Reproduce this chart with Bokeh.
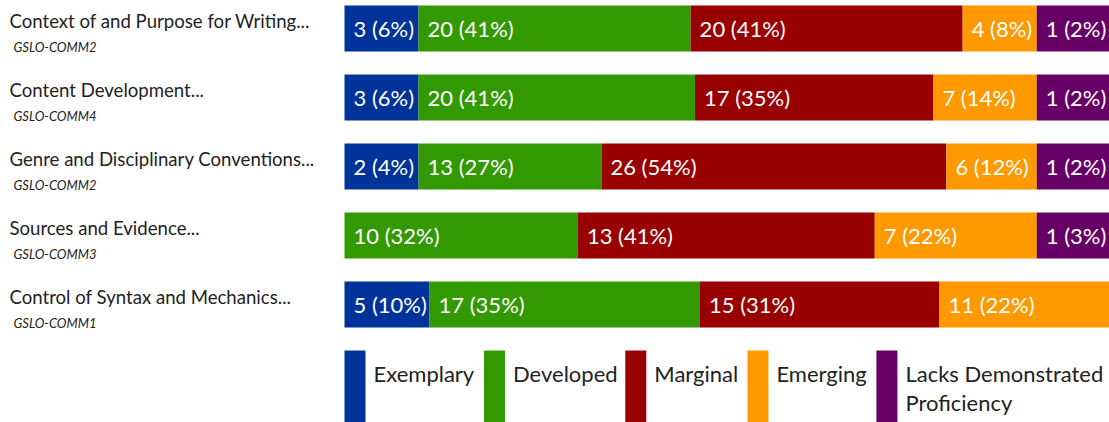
import math
from bokeh.plotting import figure
from bokeh.models import Range1d, ColumnDataSource
from bokeh.core.properties import value
from bokeh.embed import file_html
from bokeh.resources import INLINE

# ---------------- data ----------------
criteria = [
    "Context of and Purpose for Writing...",
    "Content Development...",
    "Genre and Disciplinary Conventions...",
    "Sources and Evidence...",
    "Control of Syntax and Mechanics...",
]
outcomes = ["GSLO-COMM2", "GSLO-COMM4", "GSLO-COMM2", "GSLO-COMM3", "GSLO-COMM1"]
levels = ["Exemplary", "Developed", "Marginal", "Emerging", "Lacks Demonstrated Proficiency"]
legend_labels = ["Exemplary", "Developed", "Marginal", "Emerging", "Lacks Demonstrated\nProficiency"]
colors = ["#003399", "#339900", "#990000", "#FF9900", "#660066"]
exemplary = [3, 3, 2, 0, 5]
developed = [20, 20, 13, 10, 17]
marginal = [20, 17, 26, 13, 15]
emerging = [4, 7, 6, 7, 11]
lacks = [1, 1, 1, 1, 0]
series = [exemplary, developed, marginal, emerging, lacks]

# ---------------- layout ----------------
FONT = "Lato"
LBL_SIZE = 22          # px, labels inside bars
BAR_LEFT = 344
BAR_W = 765
ROW_TOP = 5
ROW_PITCH = 69
BAR_H = 46
PAD_L = 9
PAD_R = 7

# approximate Lato advance widths (em) used to size segments / legend items
CHAR_W = {
    "1": 0.5, " ": 0.2, "(": 0.29, ")": 0.29, "%": 0.74,
    "i": 0.24, "l": 0.24, "r": 0.37, "m": 0.84, "a": 0.52, "g": 0.52,
    "x": 0.5, "y": 0.5, "v": 0.5, "e": 0.53, "o": 0.56, "p": 0.56,
    "d": 0.56, "n": 0.56, "E": 0.6, "D": 0.73, "M": 0.9, "L": 0.5,
}


def text_width(s, size, default=0.56):
    return sum(CHAR_W.get(ch, default) for ch in s) * size


def segment_layout(counts):
    n = sum(counts)
    idx = [i for i, c in enumerate(counts) if c > 0]
    pct = {i: math.floor(100 * counts[i] / n) for i in idx}
    text = {i: f"{counts[i]} ({pct[i]}%)" for i in idx}
    minw = {i: text_width(text[i], LBL_SIZE) + PAD_L + PAD_R for i in idx}
    w = {i: max(minw[i], pct[i] / 100 * BAR_W) for i in idx}
    diff = BAR_W - sum(w.values())
    if diff < 0:
        slack = {i: w[i] - minw[i] for i in idx}
        tot = sum(slack.values())
        for i in idx:
            w[i] += diff * slack[i] / tot
    else:
        free = [i for i in idx if w[i] > minw[i]]
        tot = sum(w[i] for i in free)
        for i in free:
            w[i] += diff * w[i] / tot
    return idx, w, text


p = figure(width=1109, height=422, output_backend="svg", toolbar_location=None,
           x_range=Range1d(0, 1109), y_range=Range1d(422, 0),
           min_border=0, outline_line_color=None)
p.axis.visible = False
p.grid.visible = False
p.background_fill_color = "white"
p.border_fill_color = "white"

seg = dict(y=[], left=[], right=[], color=[], tx=[], text=[])
for r in range(len(criteria)):
    counts = [s[r] for s in series]
    idx, w, text = segment_layout(counts)
    x = BAR_LEFT
    yc = ROW_TOP + r * ROW_PITCH + BAR_H / 2
    for i in idx:
        seg["y"].append(yc)
        seg["left"].append(x)
        seg["right"].append(x + w[i])
        seg["color"].append(colors[i])
        seg["tx"].append(x + PAD_L)
        seg["text"].append(text[i])
        x += w[i]
src = ColumnDataSource(seg)
p.hbar(y="y", left="left", right="right", height=BAR_H, fill_color="color",
       line_color=None, source=src)
p.text(x="tx", y="y", text="text", source=src, text_font=value(FONT),
       text_font_size=f"{LBL_SIZE}px", text_color="#ffffff",
       text_baseline="middle", text_align="left")

# left labels
rows_top = [ROW_TOP + r * ROW_PITCH for r in range(len(criteria))]
p.text(x=[9] * len(criteria), y=[t + 15.5 for t in rows_top], text=criteria,
       text_font=value(FONT), text_font_size="18.6px", text_color="#222222",
       text_baseline="alphabetic", text_align="left")
p.text(x=[13] * len(outcomes), y=[t + 41.5 for t in rows_top], text=outcomes,
       text_font=value(FONT), text_font_size="13px", text_font_style="italic",
       text_color="#222222", text_baseline="alphabetic", text_align="left")

# legend
LEG_TOP = 350
SW_W = 21
LEG_SIZE = 22
lx = []
x = BAR_LEFT
for lab in legend_labels:
    lx.append(x)
    first = lab.split("\n")[0]
    x += SW_W + 8 + text_width(first, LEG_SIZE) + 8
p.quad(left=lx, right=[v + SW_W for v in lx], top=[LEG_TOP] * 5, bottom=[440] * 5,
       fill_color=colors, line_color=None)
p.text(x=[v + SW_W + 8 for v in lx], y=[LEG_TOP + 9] * 5, text=legend_labels,
       text_font=value(FONT), text_font_size=f"{LEG_SIZE}px", text_color="#222222",
       text_baseline="top", text_align="left", text_line_height=1.1)

open("out.html", "w").write(file_html(p, INLINE))
